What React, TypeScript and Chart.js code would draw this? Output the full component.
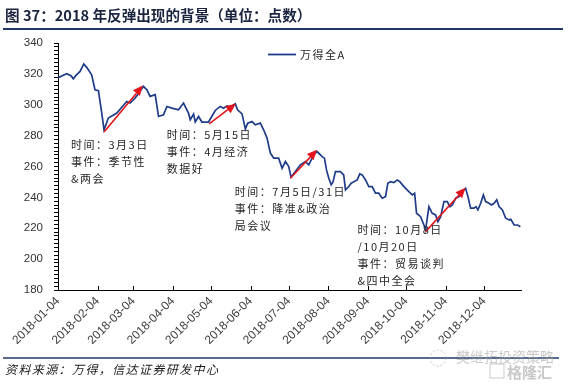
import React, { useEffect, useRef } from "react";
import { Chart, registerables } from "chart.js";

Chart.register(...registerables);

// ---------- data ----------
const titleText = "图 37：2018 年反弹出现的背景（单位：点数）";
const sourceText = "资料来源：万得，信达证券研发中心";
const seriesName = "万得全A";

// day offset from 2018-01-04
const days = [
  0, 6.8, 10.2, 12, 14.1, 17.3, 20.2, 22.5, 26.4, 29, 31.7, 34.3, 36.1, 39.5, 46.1, 53.9, 56.5, 60.4, 62.8, 67,
  69.7, 72.2, 76.2, 78.8, 82.7, 85.4, 89.3, 94.5, 98.4, 102.3, 103.7, 106.3, 107.6, 110.2, 112.8, 118, 123.3, 127.2,
  129.8, 132.5, 135.1, 139, 140.8, 144.3, 146.9, 148.7, 152.1, 154.7, 158.6, 161.2, 163.9, 166.5, 169.1, 173, 175.7,
  178.3, 180.9, 182.7, 186.1, 190, 194, 196.6, 200.5, 203.1, 207.1, 208.9, 210.5, 212.3, 214.2, 215.7, 217.5, 221.4,
  224, 225.4, 228, 229.9, 232, 234.6, 236.6, 238.5, 241.1, 243.7, 246.3, 248.9, 251.5, 254.2, 256.8, 258.6, 260.7,
  263.3, 266, 268, 271.2, 275.1, 277.7, 279.6, 281.1, 284.3, 286.9, 288.2, 290.8, 293.4, 296, 297.9, 300, 302.6,
  305.2, 307.3, 309.2, 311.8, 314.4, 315.7, 317.8, 319.6, 321.4, 323.5, 326.1, 327.7, 329.2, 331.4, 333.5, 335.3,
  337.9, 339.8, 341.9, 344, 345.8, 348.4, 351, 353.6, 355, 357.6, 360.3, 362.5,
];
const values = [
  317.5, 320.1, 318.8, 316.8, 319, 321.6, 326.4, 324.2, 319.4, 309.7, 309.1, 294.6, 283.8, 291.4, 294.6, 302.1, 301.1,
  304.3, 306.9, 311.9, 309.7, 305.4, 306.5, 292.4, 293.5, 298.9, 297.8, 296.7, 301.1, 294.6, 290.3, 293.9, 288.8,
  292.4, 288.8, 288.8, 296.3, 298.9, 297.8, 299.3, 298.5, 300.6, 296.7, 294.1, 284.2, 288.1, 289.1, 287, 288.1, 283.8,
  278.4, 268.7, 265.4, 265.4, 258.9, 263.2, 260, 253.1, 256.7, 261.1, 263.2, 261.1, 267.5, 269.7, 266.4, 265.4, 257.8,
  252.4, 248.1, 250.2, 256.7, 256.7, 254.6, 244.8, 247, 249.2, 250.2, 251.3, 255.2, 254.6, 251.3, 247, 247, 242.7,
  242.7, 239.5, 240.5, 249.2, 250.2, 249.6, 251.3, 250.2, 247, 243.7, 241.6, 242.7, 229.7, 227.5, 222.1, 218.9, 234,
  229.7, 228.6, 224.3, 227.5, 237.3, 237.3, 234, 235.1, 239.5, 240.5, 243.7, 244.4, 245.9, 240.5, 233, 233, 234,
  231.9, 236.2, 241.6, 237.3, 236.2, 235.1, 236.2, 238.4, 234, 231.9, 226.5, 225.4, 225.8, 222.1, 222.1, 221,
];

const xTickDays = [0, 31, 59, 90, 120, 151, 181, 212, 243, 273, 304, 334];
const xTickLabels = [
  "2018-01-04", "2018-02-04", "2018-03-04", "2018-04-04", "2018-05-04", "2018-06-04",
  "2018-07-04", "2018-08-04", "2018-09-04", "2018-10-04", "2018-11-04", "2018-12-04",
];
const xMaxDay = 363;
const yMin = 180;
const yMax = 340;
const yMajorStep = 20;
const yMinorStep = 2.5;

// rebound arrows (day, value)
const arrowStartDay = [36.1, 118.5, 182.2, 288.2];
const arrowStartValue = [282.3, 287.6, 252.4, 217.8];
const arrowEndDay = [66.5, 139.4, 203.1, 319.5];
const arrowEndValue = [312.5, 300.7, 270.8, 246.2];

// annotation anchors (day, value of first line) and text
const noteDay = [10.2, 85.2, 138.6, 234.8];
const noteValue = [274.0, 280.5, 243.4, 218.9];
const noteLines = [
  ["时间：3月3日", "事件：季节性", "&两会"],
  ["时间：5月15日", "事件：4月经济", "数据好"],
  ["时间：7月5日/31日", "事件：降准&政治", "局会议"],
  ["时间：10月8日", "/10月20日", "事件：贸易谈判", "&四中全会"],
];

const watermarkText = "樊继拓投资策略";
const watermarkText2 = "格隆汇";

// ---------- styles ----------
const CJK = '"Noto Sans CJK SC", "Noto Sans", sans-serif';
const LATIN = '"Liberation Sans", Arial, sans-serif';
const NAVY = "#1F3864";
const LINE_BLUE = "#1F3C88";
const ARROW_RED = "#E3141B";

const overlayPlugin = {
  id: "overlay",
  afterDatasetsDraw(chart: any) {
    const { ctx, chartArea } = chart;
    const xs = chart.scales.x;
    const ys = chart.scales.y;
    ctx.save();
    // inward x tick marks
    ctx.strokeStyle = "#000";
    ctx.lineWidth = 1;
    xTickDays.forEach((d) => {
      const px = Math.round(xs.getPixelForValue(d)) + 0.5;
      ctx.beginPath();
      ctx.moveTo(px, chartArea.bottom);
      ctx.lineTo(px, chartArea.bottom - 4);
      ctx.stroke();
    });
    // arrows
    ctx.strokeStyle = ARROW_RED;
    ctx.fillStyle = ARROW_RED;
    ctx.lineWidth = 1.6;
    arrowStartDay.forEach((_, i) => {
      const x1 = xs.getPixelForValue(arrowStartDay[i]);
      const y1 = ys.getPixelForValue(arrowStartValue[i]);
      const x2 = xs.getPixelForValue(arrowEndDay[i]);
      const y2 = ys.getPixelForValue(arrowEndValue[i]);
      const ang = Math.atan2(y2 - y1, x2 - x1);
      const headLen = 10;
      const headW = 4.5;
      const bx = x2 - headLen * Math.cos(ang);
      const by = y2 - headLen * Math.sin(ang);
      ctx.beginPath();
      ctx.moveTo(x1, y1);
      ctx.lineTo(bx, by);
      ctx.stroke();
      ctx.beginPath();
      ctx.moveTo(x2, y2);
      ctx.lineTo(bx + headW * Math.sin(ang), by - headW * Math.cos(ang));
      ctx.lineTo(bx - headW * Math.sin(ang), by + headW * Math.cos(ang));
      ctx.closePath();
      ctx.fill();
    });
    // annotations
    ctx.fillStyle = "#262626";
    ctx.font = `11px ${CJK}`;
    ctx.textAlign = "left";
    ctx.textBaseline = "middle";
    (ctx as any).letterSpacing = "1.5px";
    noteLines.forEach((lines, i) => {
      const x = xs.getPixelForValue(noteDay[i]);
      const y = ys.getPixelForValue(noteValue[i]);
      lines.forEach((t, j) => ctx.fillText(t, x, y + j * 17));
    });
    ctx.restore();
  },
  afterDraw(chart: any) {
    const { ctx, width } = chart;
    ctx.save();
    ctx.textBaseline = "middle";
    ctx.textAlign = "left";
    // title
    ctx.fillStyle = "#1b2540";
    ctx.font = `bold 14.6px ${CJK}`;
    (ctx as any).letterSpacing = "0px";
    ctx.fillText(titleText, 5, 15);
    // top rule
    ctx.strokeStyle = NAVY;
    ctx.lineWidth = 2;
    ctx.beginPath();
    ctx.moveTo(3, 29);
    ctx.lineTo(width - 6, 29);
    ctx.stroke();
    // bottom rule
    ctx.lineWidth = 1.5;
    ctx.beginPath();
    ctx.moveTo(3, 358);
    ctx.lineTo(width - 10, 358);
    ctx.stroke();
    // source
    ctx.fillStyle = "#1a1a1a";
    ctx.font = `italic 12px ${CJK}`;
    (ctx as any).letterSpacing = "1.4px";
    ctx.fillText(sourceText, 5, 369);
    // legend
    const ds = chart.data.datasets[0];
    ctx.strokeStyle = LINE_BLUE;
    ctx.lineWidth = 1.8;
    ctx.beginPath();
    ctx.moveTo(268, 54.5);
    ctx.lineTo(296, 54.5);
    ctx.stroke();
    ctx.fillStyle = "#262626";
    ctx.font = `11px ${CJK}`;
    (ctx as any).letterSpacing = "1.5px";
    ctx.fillText(ds.label, 300, 54.5);
    // watermark
    ctx.globalAlpha = 0.55;
    ctx.fillStyle = "#9a9a9a";
    ctx.font = `14px ${CJK}`;
    (ctx as any).letterSpacing = "0px";
    ctx.fillText(watermarkText, 456, 357);
    ctx.strokeStyle = "#a0a0a0";
    ctx.lineWidth = 1;
    ctx.setLineDash([2, 2]);
    ctx.beginPath();
    ctx.arc(438, 358, 8, 0, Math.PI * 2);
    ctx.stroke();
    ctx.setLineDash([]);
    ctx.font = `bold 15px ${CJK}`;
    ctx.fillText(watermarkText2, 507, 372);
    ctx.strokeRect(490, 364, 14, 14);
    ctx.restore();
  },
};

export default function App() {
  const canvasRef = useRef<HTMLCanvasElement | null>(null);

  useEffect(() => {
    const canvas = canvasRef.current;
    if (!canvas) return;
    const points = days.map((d, i) => ({ x: d, y: values[i] }));
    const chart = new Chart(canvas, {
      type: "line",
      data: {
        datasets: [
          {
            label: seriesName,
            data: points,
            borderColor: LINE_BLUE,
            borderWidth: 1.7,
            pointRadius: 0,
            tension: 0,
            fill: false,
          },
        ],
      },
      options: {
        animation: false,
        responsive: true,
        maintainAspectRatio: false,
        layout: { padding: { top: 43, right: 48, left: 0, bottom: 0 } },
        plugins: {
          legend: { display: false },
          title: { display: false },
          tooltip: { enabled: false },
        },
        scales: {
          x: {
            type: "linear",
            min: 0,
            max: xMaxDay,
            afterBuildTicks: (scale: any) => {
              scale.ticks = xTickDays.map((v) => ({ value: v }));
            },
            afterFit: (scale: any) => {
              scale.height = 95;
            },
            grid: { display: false, drawTicks: false },
            border: { display: true, color: "#000", width: 1 },
            ticks: {
              autoSkip: false,
              minRotation: 45,
              maxRotation: 45,
              padding: 4,
              color: "#404040",
              font: { family: LATIN, size: 12 },
              callback: (_v: any, i: number) => xTickLabels[i],
            },
          },
          y: {
            type: "linear",
            min: yMin,
            max: yMax,
            afterBuildTicks: (scale: any) => {
              const t = [];
              for (let v = yMin; v <= yMax + 1e-9; v += yMinorStep) t.push({ value: v });
              scale.ticks = t;
            },
            afterFit: (scale: any) => {
              scale.width = 58;
            },
            grid: {
              display: true,
              drawOnChartArea: false,
              drawTicks: true,
              tickLength: 4,
              color: "#000",
              lineWidth: 1,
            },
            border: { display: true, color: "#000", width: 1 },
            ticks: {
              autoSkip: false,
              padding: 11,
              color: "#333",
              font: { family: LATIN, size: 11.5 },
              callback: (v: any) => (Math.abs(v % yMajorStep) < 1e-6 ? String(v) : ""),
            },
          },
        },
      },
      plugins: [overlayPlugin],
    });
    return () => chart.destroy();
  }, []);

  return (
    <div style={{ position: "fixed", left: 0, top: 0, width: 569, height: 385, background: "#fff" }}>
      <canvas ref={canvasRef} />
    </div>
  );
}
